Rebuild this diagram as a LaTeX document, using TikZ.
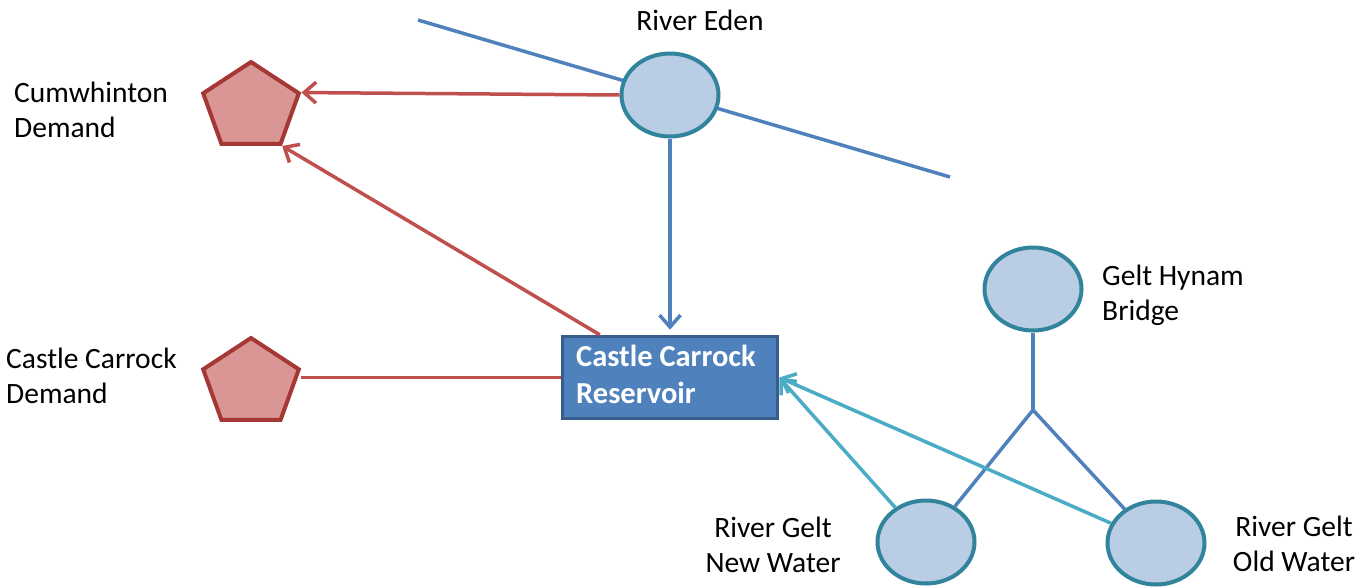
\documentclass[tikz,border=0pt]{standalone}
\usepackage{fontspec}
\setmainfont{Carlito}
\usetikzlibrary{arrows.meta,shapes.geometric,calc}
\definecolor{ellfill}{RGB}{185,205,229}
\definecolor{elldraw}{RGB}{49,132,155}
\definecolor{pentfill}{RGB}{217,150,148}
\definecolor{pentdraw}{RGB}{165,55,52}
\definecolor{resfill}{RGB}{79,129,189}
\definecolor{resdraw}{RGB}{56,93,138}
\definecolor{blueline}{RGB}{79,129,189}
\definecolor{redline}{RGB}{192,80,77}
\definecolor{cyanline}{RGB}{75,172,198}
\newcommand{\twoline}[3]{\begin{tabular}[t]{@{}#1@{}}#2\\#3\end{tabular}}
\begin{document}
\begin{tikzpicture}[x=1pt,y=-1pt,
  every node/.style={font=\fontsize{29.5}{35}\selectfont},
  site/.style={ellipse, draw=elldraw, fill=ellfill, line width=4pt, minimum width=97pt, minimum height=83pt, inner sep=0pt},
  demand/.style={regular polygon, regular polygon sides=5, draw=pentdraw, fill=pentfill, line width=4pt, minimum size=90.6pt, inner sep=0pt, transform shape},
  resv/.style={rectangle, draw=resdraw, fill=resfill, line width=3.5pt, minimum width=215pt, minimum height=82pt, text=white, font=\fontsize{30.5}{37}\selectfont\bfseries, inner sep=0pt},
  lbl/.style={inner sep=0pt, text=black},
  tip/.style={-{Straight Barb[length=12pt,width=21pt]}},
  redflow/.style={draw=redline, line width=3.5pt},
  blueflow/.style={draw=blueline, line width=3.5pt},
  cyanflow/.style={draw=cyanline, line width=3.5pt},
  link/.style={draw=blueline, line width=3.5pt, line join=round}
]
\useasboundingbox (0,0) rectangle (1371,587);
\coordinate (edenA) at (418,20);
\coordinate (edenB) at (950,177);
\draw[blueflow] (edenA) -- (edenB);
\node[site] (eden) at (670,95) {};
\node[site] (hynam) at (1033,289) {};
\node[site] (gnew) at (926,542) {};
\node[site] (gold) at (1156,543) {};
\begin{scope}[shift={(251,107.3)}, xscale=1.11]
  \node[demand] (cum) at (0,0) {};
\end{scope}
\begin{scope}[shift={(251,383.3)}, xscale=1.11]
  \node[demand] (cc) at (0,0) {};
\end{scope}
\node[resv] (res) at (670,377.5) {\twoline{l}{Castle Carrock\hspace*{8pt}}{Reservoir}};
\coordinate (j) at (1033,410);

\node[lbl, anchor=base] (tEden) at (700,30) {River Eden};
\node[lbl, anchor=base west] (tCum) at (14,102) {\twoline{l}{Cumwhinton}{Demand}};
\node[lbl, anchor=base west] (tCC) at (6,368) {\twoline{l}{Castle Carrock}{Demand}};
\node[lbl, anchor=base west] (tHy) at (1102,285) {\twoline{l}{Gelt Hynam}{Bridge}};
\node[lbl, anchor=base] (tNew) at (773,537) {\twoline{c}{River Gelt}{New Water}};
\node[lbl, anchor=base] (tOld) at (1294,536) {\twoline{c}{River Gelt}{Old Water}};

\draw[redflow, tip] (eden.west) -- (cum.corner 5);
\draw[redflow, tip] ([xshift=39pt]res.north west) -- (cum.corner 4);
\draw[redflow] (res.west) -- (res.west -| cc.corner 5);
\draw[blueflow, tip, shorten >=5pt] (eden.south) -- (res.north);
\draw[link] (hynam.south) -- (j);
\draw[link] (gnew) -- (j) -- (gold);
\draw[cyanflow, tip] (gnew) -- (res.east);
\draw[cyanflow, tip] (gold) -- (res.east);
\end{tikzpicture}
\end{document}
